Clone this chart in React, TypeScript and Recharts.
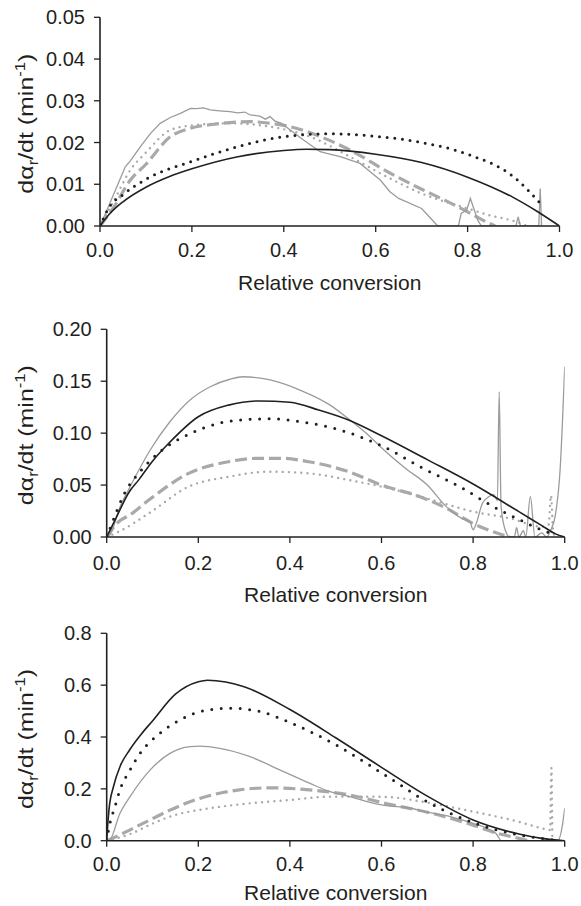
import { Line, LineChart, XAxis, YAxis } from "recharts"

const FONT = '"Liberation Sans", Arial, Helvetica, sans-serif'
const INK = "#231f20"
const GREY = "#9b9b9b"
const LIGHT = "#a9a9a9"

const xTicks = [0, 0.2, 0.4, 0.6, 0.8, 1.0]

// 93.3 °C  [conversion, rate]
const p1Ticks = [0, 0.01, 0.02, 0.03, 0.04, 0.05]
const p1Black = [[0, 0], [0.02, 0.0028], [0.05, 0.0058], [0.1, 0.0093], [0.15, 0.0118], [0.2, 0.0137], [0.3, 0.0166], [0.4, 0.0181], [0.45, 0.0184], [0.5, 0.0183], [0.6, 0.0172], [0.7, 0.0152], [0.8, 0.0117], [0.9, 0.0068], [0.95, 0.0036], [1, 0]]
const p1BlackDot = [[0, 0], [0.02, 0.0045], [0.05, 0.0075], [0.1, 0.0112], [0.2, 0.0155], [0.3, 0.019], [0.4, 0.0214], [0.5, 0.0221], [0.6, 0.0215], [0.7, 0.02], [0.8, 0.0172], [0.9, 0.0118], [0.96, 0.0052]]
const p1Exp = [[0, 0], [0.015, 0.0038], [0.035, 0.009], [0.055, 0.0142], [0.066, 0.0156], [0.088, 0.019], [0.11, 0.0222], [0.131, 0.0246], [0.153, 0.026], [0.175, 0.027], [0.197, 0.0282], [0.21, 0.0281], [0.225, 0.0283], [0.24, 0.0278], [0.26, 0.0276], [0.283, 0.0274], [0.3, 0.0271], [0.315, 0.0273], [0.327, 0.0266], [0.348, 0.0263], [0.36, 0.0256], [0.37, 0.0262], [0.38, 0.0252], [0.395, 0.0246], [0.414, 0.023], [0.443, 0.0206], [0.479, 0.0178], [0.5, 0.0172], [0.523, 0.0166], [0.545, 0.0158], [0.566, 0.015], [0.59, 0.0128], [0.61, 0.011], [0.631, 0.0082], [0.65, 0.0066], [0.7, 0.0042], [0.72, 0.0018], [0.735, 0], [0.78, 0], [0.786, 0.003], [0.798, 0.0038], [0.806, 0.0066], [0.814, 0.004], [0.822, 0.0014], [0.83, 0], [0.905, 0], [0.91, 0.0022], [0.915, 0], [0.955, 0], [0.958, 0.009], [0.961, 0]]
const p1Dash = [[0, 0], [0.03, 0.0045], [0.066, 0.011], [0.1, 0.0148], [0.153, 0.0214], [0.196, 0.0234], [0.25, 0.0244], [0.327, 0.025], [0.37, 0.0246], [0.414, 0.0238], [0.48, 0.0214], [0.544, 0.0182], [0.631, 0.0127], [0.7, 0.0088], [0.75, 0.0062], [0.8, 0.0034], [0.84, 0.001], [0.86, 0]]
const p1Dot = [[0, 0], [0.03, 0.006], [0.066, 0.0134], [0.1, 0.0176], [0.153, 0.023], [0.2, 0.0241], [0.283, 0.0246], [0.37, 0.0238], [0.457, 0.0214], [0.544, 0.0166], [0.631, 0.0114], [0.7, 0.0078], [0.8, 0.0042], [0.85, 0.0025], [0.9, 0.0012], [0.93, 0]]

// 121.1 °C
const p2Ticks = [0, 0.05, 0.1, 0.15, 0.2]
const p2Black = [[0, 0], [0.02, 0.018], [0.05, 0.044], [0.07, 0.055], [0.1, 0.073], [0.135, 0.09], [0.2, 0.1158], [0.266, 0.127], [0.332, 0.131], [0.4, 0.1297], [0.463, 0.1223], [0.528, 0.1127], [0.6, 0.0975], [0.7, 0.0745], [0.8, 0.051], [0.9, 0.0244], [0.95, 0.011], [0.98, 0.003], [1, 0]]
const p2BlackDot = [[0, 0], [0.007, 0.008], [0.04, 0.043], [0.073, 0.063], [0.116, 0.082], [0.182, 0.0995], [0.247, 0.1097], [0.313, 0.1133], [0.357, 0.1139], [0.422, 0.111], [0.488, 0.1056], [0.553, 0.0966], [0.619, 0.0838], [0.684, 0.0677], [0.771, 0.0484], [0.851, 0.0276], [0.9, 0.017], [0.95, 0.0067], [0.98, 0.002]]
const p2Exp = [[0, 0], [0.007, 0.002], [0.029, 0.029], [0.051, 0.0484], [0.095, 0.0838], [0.138, 0.111], [0.182, 0.132], [0.226, 0.1447], [0.269, 0.1519], [0.298, 0.1543], [0.357, 0.1512], [0.422, 0.1415], [0.488, 0.127], [0.531, 0.1127], [0.575, 0.0966], [0.6, 0.086], [0.65, 0.067], [0.7, 0.05], [0.742, 0.029], [0.775, 0.018], [0.793, 0.0147], [0.8, 0.007], [0.806, 0.012], [0.82, 0.032], [0.835, 0.039], [0.845, 0.041], [0.853, 0.035], [0.857, 0.14], [0.861, 0.03], [0.87, 0.007], [0.88, 0], [0.89, 0], [0.895, 0.009], [0.9, 0], [0.91, 0.006], [0.915, 0], [0.925, 0.039], [0.935, 0], [0.95, 0.004], [0.96, 0], [0.97, 0.007], [0.98, 0.022], [0.99, 0.065], [1, 0.164]]
const p2Dash = [[0, 0], [0.026, 0.0147], [0.05, 0.021], [0.092, 0.0356], [0.179, 0.0613], [0.266, 0.0725], [0.332, 0.0758], [0.38, 0.0758], [0.441, 0.0725], [0.528, 0.0629], [0.6, 0.05], [0.684, 0.0388], [0.742, 0.0276], [0.8, 0.013], [0.844, 0.005], [0.88, 0]]
const p2Dot = [[0, 0], [0.026, 0.005], [0.092, 0.0228], [0.179, 0.0485], [0.266, 0.058], [0.354, 0.0629], [0.441, 0.0613], [0.528, 0.0549], [0.616, 0.0469], [0.7, 0.037], [0.8, 0.0245], [0.88, 0.018], [0.95, 0.01], [0.965, 0.012], [0.97, 0.04], [0.975, 0.005], [0.98, 0]]

// 148.9 °C
const p3Ticks = [0, 0.2, 0.4, 0.6, 0.8]
const p3Black = [[0, 0], [0.001, 0.03], [0.005, 0.12], [0.015, 0.21], [0.03, 0.29], [0.05, 0.35], [0.075, 0.41], [0.1, 0.462], [0.15, 0.565], [0.2, 0.613], [0.22, 0.619], [0.26, 0.612], [0.3, 0.594], [0.4, 0.506], [0.5, 0.397], [0.6, 0.283], [0.7, 0.172], [0.8, 0.08], [0.9, 0.026], [0.95, 0.009], [1, 0]]
const p3BlackDot = [[0, 0], [0.007, 0.067], [0.018, 0.131], [0.029, 0.196], [0.051, 0.273], [0.073, 0.337], [0.116, 0.414], [0.16, 0.466], [0.204, 0.498], [0.269, 0.511], [0.335, 0.498], [0.4, 0.456], [0.5, 0.37], [0.6, 0.262], [0.7, 0.15], [0.8, 0.07], [0.9, 0.022], [0.95, 0.009], [0.99, 0]]
const p3Exp = [[0, 0], [0.005, 0], [0.029, 0.106], [0.051, 0.17], [0.095, 0.273], [0.138, 0.337], [0.182, 0.363], [0.204, 0.365], [0.247, 0.356], [0.313, 0.324], [0.378, 0.273], [0.444, 0.221], [0.488, 0.189], [0.531, 0.17], [0.575, 0.148], [0.619, 0.133], [0.65, 0.13], [0.7, 0.11], [0.75, 0.093], [0.8, 0.067], [0.83, 0.048], [0.85, 0.028], [0.862, 0], [0.985, 0], [0.995, 0.06], [1, 0.125]]
const p3Dash = [[0, 0], [0.02, 0.015], [0.05, 0.041], [0.1, 0.085], [0.138, 0.118], [0.203, 0.163], [0.29, 0.196], [0.356, 0.204], [0.443, 0.196], [0.531, 0.176], [0.618, 0.14], [0.7, 0.11], [0.8, 0.06], [0.85, 0.03], [0.9, 0.009], [0.92, 0]]
const p3Dot = [[0, 0], [0.05, 0.025], [0.1, 0.066], [0.138, 0.093], [0.225, 0.125], [0.312, 0.144], [0.4, 0.157], [0.487, 0.17], [0.574, 0.17], [0.618, 0.168], [0.7, 0.147], [0.8, 0.112], [0.9, 0.073], [0.95, 0.048], [0.968, 0.041], [0.971, 0.28], [0.973, 0]]

const toPts = (a: number[][]) => a.map(([x, y]) => ({ x, y }))

function YTitle(props: any) {
  const vb = props.viewBox || { y: 0, height: 0 }
  const cx = 33
  const cy = vb.y + vb.height / 2 + 2
  return (
    <text
      x={cx}
      y={cy}
      transform={`rotate(-90, ${cx}, ${cy})`}
      textAnchor="middle"
      fontSize={21}
      fill={INK}
      fontFamily={FONT}
      textLength={140}
      lengthAdjust="spacingAndGlyphs"
    >
      dα<tspan dy={5} fontSize={14}>r</tspan>
      <tspan dy={-5}>/dt (min</tspan>
      <tspan dy={-8} fontSize={14}>-1</tspan>
      <tspan dy={8}>)</tspan>
    </text>
  )
}

function TempLabel(props: any) {
  const vb = props.viewBox || { x: 0, y: 0, width: 0 }
  return (
    <text
      x={vb.x + vb.width * props.fx}
      y={vb.y + props.dy}
      textAnchor="middle"
      fontSize={18.5}
      fill={INK}
      fontFamily={FONT}
    >
      {props.text}
    </text>
  )
}

type PanelProps = {
  top: number
  height: number
  plotTop: number
  plotBottom: number
  plotLeft: number
  plotRight: number
  yTicks: number[]
  digits: number
  temp: string
  tempFx: number
  tempDy: number
  tickGap: number
  titleGap: number
  dotGap: number
  black: number[][]
  blackDot: number[][]
  exp: number[][]
  expType: "linear" | "monotone"
  dash: number[][]
  dot: number[][]
}

function Panel(p: PanelProps) {
  const axisStyle = { stroke: INK, strokeWidth: 1.6 }
  const tickStyle = { fontSize: 20, fill: INK, fontFamily: FONT }
  return (
    <div style={{ position: "absolute", left: 0, top: p.top }}>
      <LineChart
        width={581}
        height={p.height}
        margin={{ top: p.plotTop - p.top, right: 581 - p.plotRight, bottom: 0, left: 0 }}
        style={{ fontFamily: FONT }}
      >
        <XAxis
          dataKey="x"
          type="number"
          domain={[0, 1]}
          ticks={xTicks}
          tickFormatter={(v: number) => v.toFixed(1)}
          height={p.top + p.height - p.plotBottom}
          tick={tickStyle}
          tickSize={6}
          tickMargin={p.tickGap}
          tickLine={{ stroke: INK, strokeWidth: 1.3 }}
          axisLine={axisStyle}
          allowDataOverflow
          label={{
            value: "Relative conversion",
            position: "insideTop",
            offset: p.titleGap,
            fontSize: 21,
            fill: INK,
            fontFamily: FONT,
          }}
        />
        <XAxis
          xAxisId="top"
          orientation="top"
          type="number"
          domain={[0, 1]}
          height={0}
          tick={false}
          tickLine={false}
          axisLine={axisStyle}
          label={<TempLabel text={p.temp} fx={p.tempFx} dy={p.tempDy} />}
        />
        <YAxis
          type="number"
          domain={[0, p.yTicks[p.yTicks.length - 1]]}
          ticks={p.yTicks}
          tickFormatter={(v: number) => v.toFixed(p.digits)}
          width={p.plotLeft}
          tick={tickStyle}
          tickSize={6}
          tickMargin={9}
          tickLine={{ stroke: INK, strokeWidth: 1.3 }}
          axisLine={axisStyle}
          allowDataOverflow
          label={<YTitle />}
        />
        <YAxis
          yAxisId="right"
          orientation="right"
          type="number"
          domain={[0, 1]}
          width={0}
          tick={false}
          tickLine={false}
          axisLine={axisStyle}
        />
        <Line
          data={toPts(p.dot)}
          dataKey="y"
          type="monotone"
          stroke={LIGHT}
          strokeWidth={2.4}
          strokeDasharray="0 6.2"
          strokeLinecap="round"
          dot={false}
          activeDot={false}
          isAnimationActive={false}
        />
        <Line
          data={toPts(p.dash)}
          dataKey="y"
          type="monotone"
          stroke={LIGHT}
          strokeWidth={3.2}
          strokeDasharray="12 5"
          dot={false}
          activeDot={false}
          isAnimationActive={false}
        />
        <Line
          data={toPts(p.exp)}
          dataKey="y"
          type={p.expType}
          stroke={GREY}
          strokeWidth={1.3}
          dot={false}
          activeDot={false}
          isAnimationActive={false}
        />
        <Line
          data={toPts(p.blackDot)}
          dataKey="y"
          type="monotone"
          stroke={INK}
          strokeWidth={3}
          strokeDasharray={`0 ${p.dotGap}`}
          strokeLinecap="round"
          dot={false}
          activeDot={false}
          isAnimationActive={false}
        />
        <Line
          data={toPts(p.black)}
          dataKey="y"
          type="monotone"
          stroke={INK}
          strokeWidth={1.6}
          dot={false}
          activeDot={false}
          isAnimationActive={false}
        />
      </LineChart>
    </div>
  )
}

export default function App() {
  return (
    <div style={{ position: "absolute", left: 0, top: 0, width: 581, height: 906, background: "#fff" }}>
      <Panel
        top={0} height={300} plotTop={17.3} plotBottom={226} plotLeft={100} plotRight={559.5}
        yTicks={p1Ticks} digits={2} temp="93.3°C" tempFx={0.816} tempDy={36}
        tickGap={11} titleGap={49} dotGap={7.7}
        black={p1Black} blackDot={p1BlackDot} exp={p1Exp} expType="linear" dash={p1Dash} dot={p1Dot}
      />
      <Panel
        top={300} height={305} plotTop={329.3} plotBottom={537} plotLeft={106.7} plotRight={564.7}
        yTicks={p2Ticks} digits={2} temp="121.1°C" tempFx={0.814} tempDy={31}
        tickGap={13} titleGap={50} dotGap={9.5}
        black={p2Black} blackDot={p2BlackDot} exp={p2Exp} expType="monotone" dash={p2Dash} dot={p2Dot}
      />
      <Panel
        top={605} height={301} plotTop={633.3} plotBottom={840.7} plotLeft={106.7} plotRight={564.7}
        yTicks={p3Ticks} digits={1} temp="148.9°C" tempFx={0.795} tempDy={34}
        tickGap={10} titleGap={44} dotGap={9.5}
        black={p3Black} blackDot={p3BlackDot} exp={p3Exp} expType="monotone" dash={p3Dash} dot={p3Dot}
      />
    </div>
  )
}
